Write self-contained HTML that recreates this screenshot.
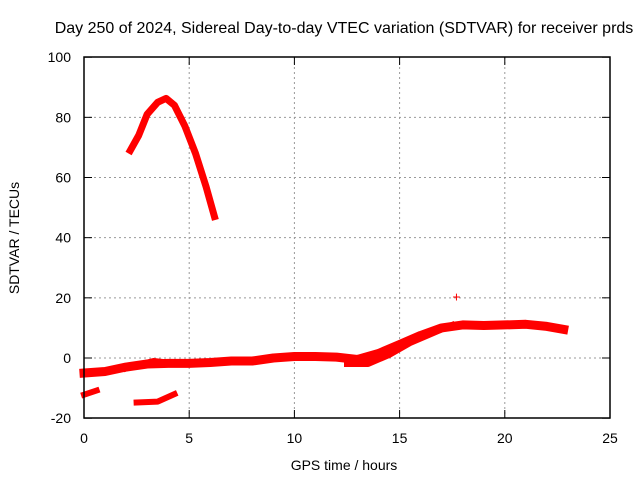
<!DOCTYPE html>
<html><head><meta charset="utf-8"><style>
body{margin:0;background:#fff}
svg text{font-family:"Liberation Sans",sans-serif;font-size:14px;fill:#000}
</style></head><body>
<svg id="c" width="640" height="480">
<text x="344" y="33" text-anchor="middle" style="font-size:16px">Day 250 of 2024, Sidereal Day-to-day VTEC variation (SDTVAR) for receiver prds</text>
<g id="grid"></g><g id="ticks"></g><g id="data"></g>
<rect x="84" y="57" width="526" height="361" fill="none" stroke="#000" stroke-width="1.5"/>
<text x="344" y="470" text-anchor="middle">GPS time / hours</text>
<text transform="translate(19,238) rotate(-90)" text-anchor="middle">SDTVAR / TECUs</text>
</svg>
<script>
const xTicks=[0,5,10,15,20,25];
const yTicks=[-20,0,20,40,60,80,100];
const trackArc=[[2.2,69],[2.6,74],[3,81],[3.5,85],[3.9,86.3],[4.3,84],[4.8,77],[5.3,68],[5.8,57],[6.2,47]];
const trackMain=[[0,-5],[1,-4.5],[2,-3],[3,-2],[4,-1.8],[5,-1.8],[6,-1.5],[7,-1],[8,-1],[9,0],[10,0.5],[11,0.5],[12,0.3],[13,-0.5],[14,1.5],[15,4.5],[16,7.5],[17,10],[18,11],[19,10.8],[20,11],[21,11.2],[22,10.5],[22.8,9.5]];
const trackLower=[[12.5,-2],[13.5,-2],[14.5,1],[15.5,5],[16.5,8],[17.5,11]];
const trackUpper=[[2,-3.5],[2.7,-2],[3.3,-1],[4,-1.5]];
const trackSmall=[[0,-12.2],[0.6,-10.8]];
const trackLow=[[2.5,-14.8],[3.5,-14.5],[4.3,-12]];
const outliers=[[17.7,20.5]];
const X=h=>84+h*526/25, Y=v=>358-v*361/120;
const NS='http://www.w3.org/2000/svg';
const grid=document.getElementById('grid'),ticks=document.getElementById('ticks'),data=document.getElementById('data');
function el(t,a,p){const e=document.createElementNS(NS,t);for(const k in a)e.setAttribute(k,a[k]);p.appendChild(e);return e;}
xTicks.forEach(t=>{
 if(t>0&&t<25){const g=el('line',{x1:X(t),x2:X(t),y1:57,y2:418,stroke:'#999','stroke-dasharray':'2,3'},grid);
 
 }
 const l=el('text',{x:X(t),y:443,'text-anchor':'middle'},ticks);l.textContent=t;
 
 
 el('line',{x1:X(t),x2:X(t),y1:418,y2:410,stroke:'#000'},ticks);
 el('line',{x1:X(t),x2:X(t),y1:57,y2:65,stroke:'#000'},ticks);
});
yTicks.forEach(t=>{
 if(t>-20&&t<100){const g=el('line',{x1:84,x2:610,y1:Y(t),y2:Y(t),stroke:'#999','stroke-dasharray':'2,3'},grid);
 
 }
 const l=el('text',{x:71,y:Y(t)+5,'text-anchor':'end'},ticks);l.textContent=t;
 
 
 el('line',{x1:84,x2:92,y1:Y(t),y2:Y(t),stroke:'#000'},ticks);
 el('line',{x1:610,x2:602,y1:Y(t),y2:Y(t),stroke:'#000'},ticks);
});
[[trackArc,7],[trackMain,9],[trackLower,6],[trackUpper,6],[trackSmall,6],[trackLow,6]].forEach(([tr,w])=>{
 const p=el('polyline',{points:tr.map(d=>X(d[0])+','+Y(d[1])).join(' '),fill:'none',stroke:'#f00','stroke-width':w,'stroke-linejoin':'round','stroke-linecap':'square'},data);
 
 
});
outliers.forEach(d=>{
 const t=el('text',{x:X(d[0]),y:Y(d[1])+5,'text-anchor':'middle',style:'fill:#f00;font-size:14px'},data);t.textContent='+';
 
 
});
</script>
</body></html>
